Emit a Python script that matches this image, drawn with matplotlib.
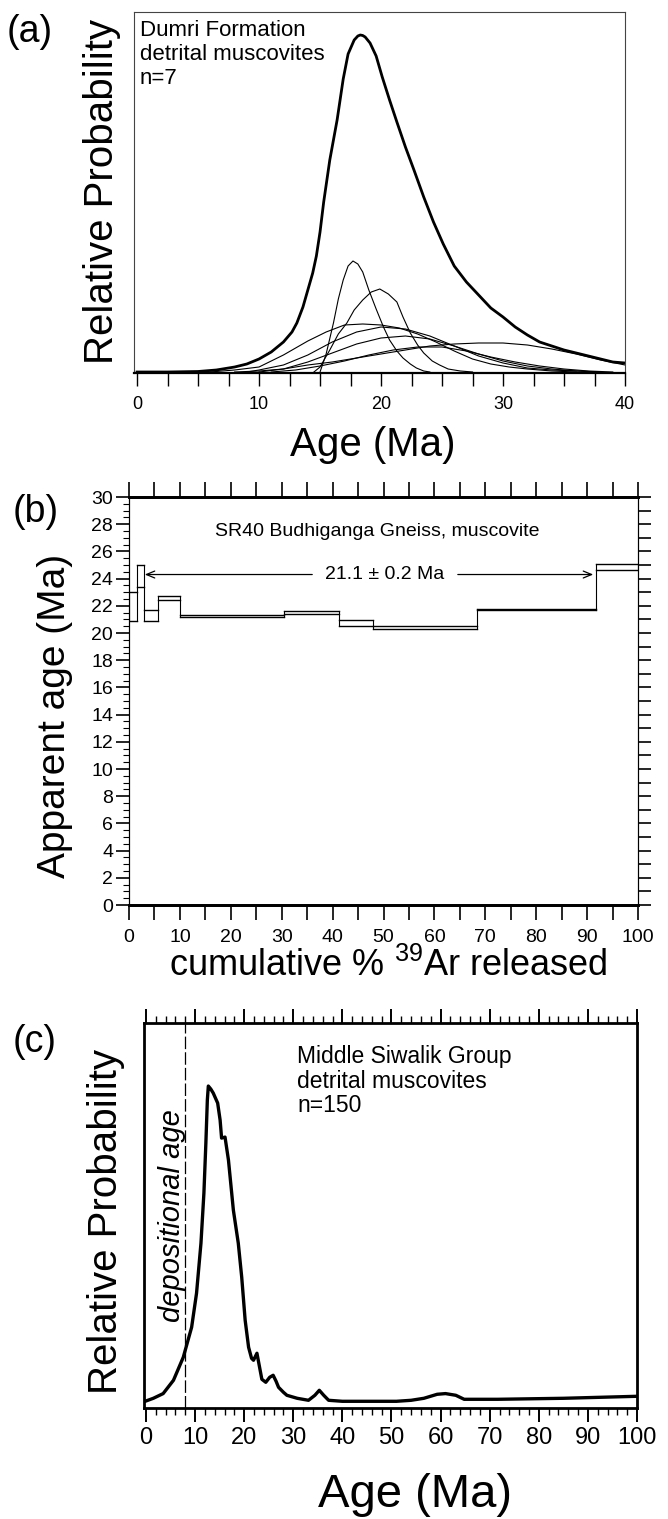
import matplotlib
matplotlib.use('Agg')
import matplotlib.pyplot as plt
from matplotlib import font_manager
import numpy as np

W, H = 668, 1519

names = {f.name for f in font_manager.fontManager.ttflist}
NARROW = 'Liberation Sans Narrow' if 'Liberation Sans Narrow' in names else 'Liberation Sans'
plt.rcParams['font.family'] = ['Liberation Sans', 'DejaVu Sans']
plt.rcParams['mathtext.fontset'] = 'custom'
plt.rcParams['mathtext.rm'] = 'Liberation Sans'

# ---------------- (a) Dumri Formation, relative probability
a_sum_age = [0, 2.5, 5, 6.5, 8.0, 9.0, 10.0, 11.0, 12.0, 12.7, 13.1, 13.6, 14.0, 14.4,
             14.7, 15.0, 15.3, 15.8, 16.4, 16.9, 17.3, 17.8, 18.1, 18.3, 18.5, 18.7, 19.1, 19.6,
             20.1, 20.7, 21.3, 22.0, 22.7, 23.5, 24.3, 25.1, 26.0, 27.0, 28.0, 29.0,
             30.0, 31.0, 32.0, 33.0, 34.0, 35.0, 36.0, 37.0, 38.0, 39.0, 40.0]
a_sum_prob = [0, 0, 0.5, 2, 5, 8, 13, 20, 30, 40, 49, 65, 82, 99,
              116, 140, 170, 212, 252, 293, 318, 332, 336, 337, 336.5, 335, 329, 316,
              295, 272, 250, 225, 202, 175, 150, 128, 106, 90, 77, 64,
              55, 45, 37, 30, 26, 22, 19, 16, 13, 10, 9]

# individual grains (n=7)
a_grain_age = [
    [15.0, 15.5, 16.1, 16.5, 16.9, 17.3, 17.7, 18.1, 18.5, 19.0, 19.6, 20.2, 20.7,
     21.3, 21.8, 22.4, 22.9, 23.5, 24.0],
    [14.5, 15.0, 15.8, 16.5, 17.2, 17.8, 18.5, 19.2, 19.9, 20.6, 21.3, 21.8, 22.4,
     23.0, 23.5, 24.2, 24.8, 25.5, 26.5, 27.5],
    [6, 8, 10, 12, 14, 15.5, 17, 18.5, 20, 21.5, 23, 24.5, 26, 27.5, 29, 30.5, 32, 34, 36],
    [9, 10, 12, 14, 16, 18, 20, 22, 24, 26, 28, 30, 32, 34, 36, 38],
    [10, 12, 14, 16, 18, 20, 22, 24, 26, 28, 30, 32, 34, 36, 38],
    [11, 13, 15, 17, 19, 21, 23, 25, 27, 29, 31, 33, 35, 37, 39],
    [8, 10, 12, 14, 16, 18, 20, 22, 24, 26, 28, 30, 32, 34, 36, 38, 40],
]
a_grain_prob = [
    [0, 18, 49, 73, 92, 106, 111, 108, 100, 82, 63, 45, 32, 21, 14, 8, 4, 1, 0],
    [0, 5, 22, 38, 49, 62, 72, 80, 83, 78, 70, 55, 39, 27, 19, 11, 7, 3, 1, 0],
    [0, 2, 5, 17, 31, 40, 47, 48, 47, 44, 38, 30, 21, 13, 8, 5, 3, 1, 0],
    [0, 2, 7, 17, 30, 40, 45, 43, 36, 26, 16, 9, 4, 2, 1, 0],
    [0, 3, 10, 19, 28, 34, 36, 33, 26, 18, 11, 6, 3, 1, 0],
    [0, 2, 6, 11, 17, 22, 25, 25, 21, 15, 10, 6, 3, 1, 0],
    [0, 1, 3, 7, 10, 14, 18, 22, 26, 28, 29, 29, 27, 23, 18, 12, 7],
]
a_ticks = np.arange(0, 40.1, 2.5)
a_ticklabels = ['0', '', '', '', '10', '', '', '', '20', '', '', '', '30', '', '', '', '40']

# ---------------- (b) SR40 age spectrum
b_edges = [0, 1.6, 2.95, 5.6, 10.0, 30.5, 41.3, 48.0, 68.4, 91.7, 100]
b_lo = [20.9, 23.4, 20.9, 22.4, 21.15, 21.4, 20.5, 20.3, 21.7, 24.6]
b_hi = [23.0, 25.0, 21.7, 22.7, 21.3, 21.6, 20.95, 20.5, 21.8, 25.1]
b_plateau = '21.1 \u00b1 0.2 Ma'
b_plateau_from, b_plateau_to, b_plateau_y = 3.1, 91.2, 24.3

# ---------------- (c) Middle Siwalik Group
c_age = [0, 1.5, 3.5, 5.6, 7.6, 9.3, 10.3, 11.2, 11.8, 12.2, 12.5, 12.7, 13.2, 13.7,
         14.6, 15.1, 15.4, 16.1, 16.8, 17.8, 18.8, 19.5, 20.2, 20.9, 21.5, 21.9,
         22.6, 23.1, 23.6, 24.4, 25.2, 25.9, 26.5, 27.0, 28.0, 28.7, 30.8, 33.1,
         34.4, 35.3, 36.2, 37.2, 40, 45, 51, 54, 56.6, 59.3, 61, 63.1, 64.8, 66,
         71.6, 85, 100]
c_prob = [0.3, 3, 7.7, 21, 44, 74, 108, 158, 208, 258, 301, 315, 312, 308,
          298, 281, 263, 264, 241, 191, 158, 124, 81, 54, 43, 41,
          48, 35, 22, 19, 24, 26, 20, 14, 9, 6, 3, 1,
          6, 11, 6, 1, 0, 0, 0, 1, 3, 7, 7.7, 6, 2, 2,
          2, 3, 5]
depositional_age = 8


def box(l, t, r, b):
    return [l / W, 1 - b / H, (r - l) / W, (b - t) / H]


def ftext(px, py, s, **kw):
    fig.text(px / W, 1 - py / H, s, **kw)


fig = plt.figure(figsize=(W / 100, H / 100), dpi=100)

# ---------- panel (a)
ax1 = fig.add_axes(box(134, 12, 625, 373))
ax1.plot(a_sum_age, a_sum_prob, color='k', lw=2.0, solid_joinstyle='round')
for ages, probs in zip(a_grain_age, a_grain_prob):
    ax1.plot(ages, probs, color='k', lw=0.8)
ax1.set_xlim(-0.25, 40)
ax1.set_ylim(-1, 360)
ax1.set_xticks(a_ticks)
ax1.set_xticklabels(a_ticklabels)
ax1.set_yticks([])
ax1.tick_params(axis='x', direction='out', length=9.5, width=1, pad=7, labelsize=13)
for s in ['left', 'right', 'top']:
    ax1.spines[s].set_linewidth(0.8)
    ax1.spines[s].set_color('#444444')
ax1.spines['bottom'].set_linewidth(1.6)

ftext(140, 30, 'Dumri Formation', fontsize=16, va='center')
ftext(140, 54, 'detrital muscovites', fontsize=16, va='center')
ftext(140, 78, 'n=7', fontsize=16, va='center')
ftext(30, 32, '(a)', fontsize=27, ha='center', va='center')
ftext(102, 192, 'Relative Probability', fontsize=29, rotation=90, ha='center', va='center')
ftext(373, 445, 'Age (Ma)', fontsize=29, ha='center', va='center')

# ---------- panel (b)
ax2 = fig.add_axes(box(129, 497, 638, 905))
for i in range(len(b_lo)):
    x0, x1 = b_edges[i], b_edges[i + 1]
    ax2.plot([x0, x1], [b_lo[i], b_lo[i]], color='k', lw=1.0)
    ax2.plot([x0, x1], [b_hi[i], b_hi[i]], color='k', lw=1.0)
# vertical connectors between steps
for i in range(len(b_edges)):
    if i == 0:
        lo, hi = b_lo[0], b_hi[0]
    elif i == len(b_edges) - 1:
        lo, hi = b_lo[-1], b_hi[-1]
    else:
        lo = min(b_lo[i - 1], b_lo[i])
        hi = max(b_hi[i - 1], b_hi[i])
    ax2.plot([b_edges[i], b_edges[i]], [lo, hi], color='k', lw=0.8)

aprops = dict(arrowstyle='->,head_length=0.6,head_width=0.25', lw=0.9, color='k',
              shrinkA=0, shrinkB=0)
ax2.annotate('', xy=(b_plateau_from, b_plateau_y), xytext=(36, b_plateau_y), arrowprops=aprops)
ax2.annotate('', xy=(b_plateau_to, b_plateau_y), xytext=(64.6, b_plateau_y), arrowprops=aprops)
ax2.text(50.2, b_plateau_y, b_plateau, fontsize=14, ha='center', va='center')
ax2.text(48.7, 27.5, 'SR40 Budhiganga Gneiss, muscovite', fontsize=14, ha='center', va='center')

ax2.set_xlim(0, 100)
ax2.set_ylim(0, 30)
ax2.set_xticks(np.arange(0, 101, 5))
ax2.set_xticklabels([str(v) if v % 10 == 0 else '' for v in range(0, 101, 5)],
                    fontfamily=NARROW)
ax2.set_yticks(np.arange(0, 31, 2))
ax2.set_yticklabels([str(v) for v in range(0, 31, 2)], fontfamily=NARROW)
ax2.set_yticks(np.arange(0, 30.1, 0.5), minor=True)
ax2.tick_params(axis='x', which='major', direction='out', length=11, width=1.2,
                top=True, pad=6, labelsize=14)
ax2.tick_params(axis='y', which='major', direction='out', length=9.5, width=1.2,
                pad=2, labelsize=14)
ax2.tick_params(axis='y', which='minor', direction='out', length=4, width=0.8)
ax2.tick_params(axis='x', which='minor', bottom=False, top=False)
ax2r = ax2.twinx()
ax2r.set_ylim(0, 30)
ax2r.set_yticks(np.arange(0, 31, 1))
ax2r.tick_params(axis='y', direction='out', length=9.5, width=1.2, labelright=False)
for a in (ax2, ax2r):
    a.spines['bottom'].set_linewidth(2)
    a.spines['top'].set_linewidth(2)
    a.spines['left'].set_linewidth(0.8)
    a.spines['right'].set_linewidth(0.8)

ftext(36, 512, '(b)', fontsize=27, ha='center', va='center')
ftext(55, 716, 'Apparent age (Ma)', fontsize=28, rotation=90, ha='center', va='center')
ftext(388, 966, 'cumulative % $^{39}$Ar released', fontsize=26, ha='center', va='center')

# ---------- panel (c)
ax3 = fig.add_axes(box(144, 1023, 637, 1408))
ax3.plot(c_age, c_prob, color='k', lw=2.4, solid_joinstyle='round')
ax3.plot([depositional_age, depositional_age], [-6.7, 378], color='k', lw=0.9,
         dashes=(10, 2.5))
ax3.text(depositional_age - 1.0, 186, 'depositional age', fontsize=21, style='italic',
         rotation=90, rotation_mode='anchor', ha='center', va='baseline')
ax3.set_xlim(-0.4, 100)
ax3.set_ylim(-6.7, 378)
ax3.set_xticks(np.arange(0, 101, 10))
ax3.set_xticklabels([str(v) for v in range(0, 101, 10)], fontfamily=NARROW)
ax3.set_xticks(np.arange(0, 101, 2), minor=True)
ax3.set_yticks([])
ax3.tick_params(axis='x', which='major', direction='out', length=10, width=1.4,
                top=True, pad=4, labelsize=17)
ax3.tick_params(axis='x', which='minor', direction='out', length=5, width=1.0, top=True)
for s in ax3.spines.values():
    s.set_linewidth(2)

ftext(297, 1057, 'Middle Siwalik Group', fontsize=16.5, va='center')
ftext(297, 1081, 'detrital muscovites', fontsize=16.5, va='center')
ftext(297, 1106, 'n=150', fontsize=16.5, va='center')
ftext(35, 1042, '(c)', fontsize=27, ha='center', va='center')
ftext(106, 1221, 'Relative Probability', fontsize=29, rotation=90, ha='center', va='center')
ftext(415, 1495, 'Age (Ma)', fontsize=34, ha='center', va='center')

fig.savefig('out.png', dpi=100)
